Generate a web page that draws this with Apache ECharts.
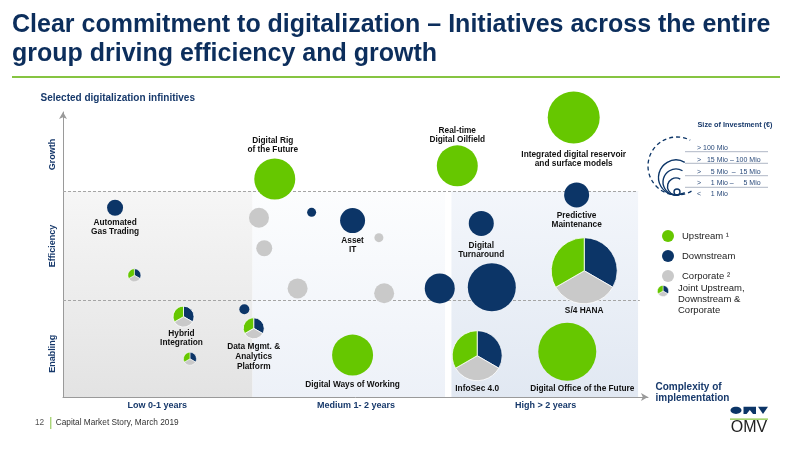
<!DOCTYPE html>
<html>
<head>
<meta charset="utf-8">
<script src="https://cdn.jsdelivr.net/npm/echarts@6/dist/echarts.min.js"></script>
<style>
html,body{margin:0;padding:0;background:#fff;}
#chart{width:800px;height:451px;}
</style>
</head>
<body>
<div id="chart"></div>
<script>
// ---------- DATA ----------
const initiativeNames = [
  'Automated\nGas Trading', '', 'Hybrid\nIntegration', '', '', 'Data Mgmt. &\nAnalytics\nPlatform',
  'Digital Rig\nof the Future', '', '', '', '', 'Asset\nIT', '', '', '', '',
  'Digital\nTurnaround', 'Real-time\nDigital Oilfield', 'Integrated digital reservoir\nand surface models',
  'Predictive\nMaintenance', 'S/4 HANA', 'Digital Ways of Working', 'InfoSec 4.0', 'Digital Office of the Future'
];
const initiativeSegment = [
  'Downstream', 'Joint', 'Joint', 'Joint', 'Downstream', 'Joint',
  'Upstream', 'Corporate', 'Corporate', 'Downstream', 'Corporate', 'Downstream', 'Corporate', 'Corporate', 'Downstream', 'Downstream',
  'Downstream', 'Upstream', 'Upstream',
  'Downstream', 'Joint', 'Upstream', 'Joint', 'Upstream'
];
// complexity of implementation (x, 0-100) and strategic impact (y, 0-100)
const complexity = [8.9, 12.2, 20.6, 21.7, 31.0, 32.6, 36.2, 33.5, 34.4, 42.5, 40.1, 49.5, 54.0, 54.9, 64.4, 73.3, 71.5, 67.4, 87.3, 87.8, 89.1, 49.5, 70.8, 86.2];
const impact     = [66.4, 42.7, 28.2, 13.4, 30.8, 24.1, 76.5, 62.9, 52.2, 64.8, 38.1, 61.9, 55.9, 36.4, 38.1, 38.5, 60.9, 81.1, 98.1, 70.9, 44.3, 14.7, 14.5, 15.9];
// size of investment (bubble size)
const investment = [16, 13, 21, 13, 10, 21, 41, 20, 16, 9, 20, 25, 9, 20, 30, 48, 25, 41, 52, 25, 66, 41, 50, 58];

const complexityLabels = ['Low 0-1 years', 'Medium 1- 2 years', 'High > 2 years'];
const complexityLabelAt = [16.1, 50.1, 82.5];
const impactLabels = ['Enabling', 'Efficiency', 'Growth'];
const impactLabelAt = [15.2, 53, 85.1];
const sizeClasses = ['> 100 Mio', '>   15 Mio \u2013 100 Mio', '>     5 Mio  \u2013  15 Mio', '>     1 Mio \u2013     5 Mio', '<     1 Mio'];
const segmentNames = ['Upstream', 'Downstream', 'Corporate'];

// ---------- STYLE / LAYOUT ----------
const FONT = '"Liberation Sans", Arial, sans-serif';
const NAVY = '#0c3567';
const TXTNAVY = '#17396b';
const colors = { Upstream: '#66c700', Downstream: '#0c3567', Corporate: '#c9c9c9' };
const zoneX = { lowEnd: 32.4, midEnd: 65.3, highStart: 66.4, highEnd: 98.3 };
const zoneY = { enabling: 33.8, efficiency: 72.3 };
const labelAbove = { 'Digital Rig\nof the Future': 4.7, 'Real-time\nDigital Oilfield': 1 };
const labelDist = {
  'Automated\nGas Trading': 2.8, 'Hybrid\nIntegration': 2.5, 'Data Mgmt. &\nAnalytics\nPlatform': 3.2,
  'Asset\nIT': 3, 'Integrated digital reservoir\nand surface models': 7, 'Predictive\nMaintenance': 3.7,
  'Digital\nTurnaround': 5, 'S/4 HANA': 2.8, 'Digital Ways of Working': 5, 'InfoSec 4.0': 3.8,
  'Digital Office of the Future': 4
};
const labelShift = { 'Digital Office of the Future': [15, 0], 'Digital Rig\nof the Future': [-2, 0], 'Hybrid\nIntegration': [-2, 0] };

function labelFor(name) {
  if (!name) return { show: false };
  const above = labelAbove[name] !== undefined;
  return {
    show: true,
    formatter: name,
    position: above ? 'top' : 'bottom',
    distance: above ? labelAbove[name] : (labelDist[name] !== undefined ? labelDist[name] : 4),
    offset: labelShift[name] || [0, 0],
    color: '#111',
    fontFamily: FONT,
    fontWeight: 'bold',
    fontSize: 8.3,
    lineHeight: name.indexOf('Analytics') >= 0 ? 10 : 9,
    align: 'center'
  };
}

const solidSeries = segmentNames.map(seg => ({
  name: seg,
  type: 'scatter',
  clip: false,
  z: 5,
  itemStyle: { color: colors[seg], opacity: 1 },
  symbol: 'circle',
  symbolSize: v => v[2],
  data: initiativeNames.map((n, i) => ({ n, i }))
    .filter(o => initiativeSegment[o.i] === seg)
    .map(o => ({
      value: [complexity[o.i], impact[o.i], investment[o.i]],
      label: labelFor(o.n)
    }))
}));

const jointIdx = initiativeNames.map((n, i) => i).filter(i => initiativeSegment[i] === 'Joint');
const sliceColors = [colors.Downstream, colors.Corporate, colors.Upstream];

function pieSectors(cx, cy, r) {
  const out = [];
  for (let k = 0; k < 3; k++) {
    const a0 = -Math.PI / 2 + k * 2 * Math.PI / 3;
    out.push({
      type: 'sector',
      shape: { cx, cy, r, r0: 0, startAngle: a0, endAngle: a0 + 2 * Math.PI / 3, clockwise: true },
      style: { fill: sliceColors[k], stroke: '#fff', lineWidth: r > 10 ? 0.8 : 0.5 }
    });
  }
  return out;
}

const jointSeries = {
  name: 'Joint',
  type: 'custom',
  clip: false,
  z: 5,
  renderItem: function (params, api) {
    const p = api.coord([api.value(0), api.value(1)]);
    const r = api.value(2) / 2;
    const name = initiativeNames[jointIdx[params.dataIndex]];
    const children = pieSectors(p[0], p[1], r);
    if (name) {
      const d = labelDist[name] !== undefined ? labelDist[name] : 4;
      const sh = labelShift[name] || [0, 0];
      const lh = name.indexOf('Analytics') >= 0 ? 10 : 9;
      children.push({
        type: 'text',
        style: {
          text: name, x: p[0] + sh[0], y: p[1] + r + d,
          align: 'center', verticalAlign: 'top', lineHeight: lh,
          font: 'bold 8.3px ' + FONT, fill: '#111'
        }
      });
    }
    return { type: 'group', children };
  },
  data: jointIdx.map(i => [complexity[i], impact[i], investment[i]])
};

const grad = (top, bottom) => ({ type: 'linear', x: 0, y: 0, x2: 0, y2: 1, colorStops: [{ offset: 0, color: top }, { offset: 1, color: bottom }] });

const zoneSeries = {
  name: 'zones',
  type: 'scatter',
  data: [],
  z: 1,
  silent: true,
  markArea: {
    silent: true,
    data: [
      [{ xAxis: 0, yAxis: 0, itemStyle: { color: grad('#f6f6f6', '#e3e3e3') } }, { xAxis: zoneX.lowEnd, yAxis: zoneY.efficiency }],
      [{ xAxis: zoneX.lowEnd, yAxis: 0, itemStyle: { color: grad('#fcfdfe', '#edf1f8') } }, { xAxis: zoneX.midEnd, yAxis: zoneY.efficiency }],
      [{ xAxis: zoneX.highStart, yAxis: 0, itemStyle: { color: grad('#f3f6fb', '#e1e8f2') } }, { xAxis: zoneX.highEnd, yAxis: zoneY.efficiency }]
    ]
  },
  markLine: {
    silent: true,
    symbol: ['none', 'none'],
    label: { show: false },
    lineStyle: { color: '#a5a5a5', type: [3, 2], width: 1 },
    data: [
      [{ coord: [0, zoneY.efficiency] }, { coord: [zoneX.highEnd, zoneY.efficiency] }],
      [{ coord: [0, zoneY.enabling] }, { coord: [zoneX.highEnd + 0.3, zoneY.enabling] }]
    ]
  }
};

// ---------- GRAPHICS (headers, legend decoration, footer) ----------
const arcRadii = [3, 8.5, 13, 17.5];
const arcCx = 676, arcBase = 195;
const sizeArcs = arcRadii.map((r, k) => ({
  type: k === 0 ? 'circle' : 'arc',
  shape: k === 0 ? { cx: arcCx + 1, cy: arcBase - r, r } :
    { cx: arcCx, cy: arcBase - r, r, startAngle: Math.PI / 3, endAngle: 5 * Math.PI / 3, clockwise: true },
  style: { stroke: NAVY, fill: 'none', lineWidth: 1.4 }
}));
sizeArcs.push({
  type: 'arc',
  shape: { cx: 677, cy: 166, r: 29, startAngle: Math.PI / 3, endAngle: 5 * Math.PI / 3 - 0.05, clockwise: true },
  style: { stroke: NAVY, fill: 'none', lineWidth: 1.3, lineDash: [4, 3] }
});
const sizeLinesY = [151.7, 163.3, 175.7, 187.3];
const sizeTextY = [148.3, 160, 171.7, 182.6, 194];
const sizeGraphics = sizeLinesY.map(y => ({
  type: 'line', shape: { x1: 685, y1: y, x2: 768, y2: y }, style: { stroke: '#9aa3b5', lineWidth: 0.8 }
})).concat(sizeClasses.map((t, k) => ({
  type: 'text', style: { text: t, x: 697, y: sizeTextY[k], verticalAlign: 'middle', font: '7px ' + FONT, fill: '#2a4a7a' }
}))).concat(sizeArcs);

const graphics = [
  { type: 'text', style: { text: 'Clear commitment to digitalization \u2013 Initiatives across the entire\ngroup driving efficiency and growth',
      x: 12, y: 11, lineHeight: 29, font: 'bold 25px ' + FONT, fill: '#0c2e5c' } },
  { type: 'rect', shape: { x: 12, y: 76, width: 768, height: 2 }, style: { fill: '#86c441' } },
  { type: 'text', style: { text: 'Selected digitalization infinitives', x: 40.5, y: 98.3, verticalAlign: 'middle',
      font: 'bold 10px ' + FONT, fill: TXTNAVY } },
  { type: 'text', style: { text: 'Size of Investment (\u20ac)', x: 735, y: 125, align: 'center', verticalAlign: 'middle',
      font: 'bold 7.3px ' + FONT, fill: TXTNAVY } },
  // joint legend item
  { type: 'group', children: pieSectors(663, 291, 5.6) },
  { type: 'text', style: { text: 'Joint Upstream,\nDownstream &\nCorporate', x: 678, y: 282.8, lineHeight: 11,
      font: '9.5px ' + FONT, fill: '#222' } },
  { type: 'text', style: { text: 'Complexity of\nimplementation', x: 655.5, y: 381.8, lineHeight: 11,
      font: 'bold 10px ' + FONT, fill: TXTNAVY } },
  // footer
  { type: 'text', style: { text: '12', x: 35, y: 423, verticalAlign: 'middle', font: '8.3px ' + FONT, fill: '#555' } },
  { type: 'rect', shape: { x: 50.3, y: 417, width: 1, height: 12 }, style: { fill: '#86c441' } },
  { type: 'text', style: { text: 'Capital Market Story, March 2019', x: 55.7, y: 423, verticalAlign: 'middle', font: '8.3px ' + FONT, fill: '#333' } },
  // OMV logo
  { type: 'ellipse', shape: { cx: 736, cy: 410.3, rx: 5.5, ry: 3.6 }, style: { fill: NAVY } },
  { type: 'polygon', shape: { points: [[743.5, 406.8], [756, 406.8], [756, 414], [753, 414], [749.8, 410], [746.6, 414], [743.5, 414]] }, style: { fill: NAVY } },
  { type: 'polygon', shape: { points: [[758, 406.8], [768, 406.8], [763, 414]] }, style: { fill: NAVY } },
  { type: 'rect', shape: { x: 730, y: 418.5, width: 38, height: 1.3 }, style: { fill: '#86c441' } },
  { type: 'text', style: { text: 'OMV', x: 749, y: 427.5, align: 'center', verticalAlign: 'middle', font: '16px ' + FONT, fill: '#222' } }
].concat(sizeGraphics);

// ---------- CHART ----------
const chart = echarts.init(document.getElementById('chart'), null, { renderer: 'canvas' });
chart.setOption({
  animation: false,
  backgroundColor: '#fff',
  textStyle: { fontFamily: FONT },
  grid: { left: 63, right: 152, top: 112, bottom: 54, containLabel: false },
  xAxis: {
    type: 'value', min: 0, max: 100, z: 4,
    splitLine: { show: false },
    axisTick: { show: false },
    axisLine: { show: true, symbol: ['none', 'arrow'], symbolSize: [6, 7], lineStyle: { color: '#9a9a9a', width: 1 } },
    axisLabel: {
      customValues: complexityLabelAt,
      formatter: v => complexityLabels[complexityLabelAt.indexOf(v)] || '',
      margin: 4, fontSize: 9, fontWeight: 'bold', color: TXTNAVY, fontFamily: FONT
    }
  },
  yAxis: {
    type: 'value', min: 0, max: 100, z: 4,
    splitLine: { show: false },
    axisTick: { show: false },
    axisLine: { show: true, symbol: ['none', 'arrow'], symbolSize: [6, 7], lineStyle: { color: '#9a9a9a', width: 1 } },
    axisLabel: {
      customValues: impactLabelAt,
      formatter: v => impactLabels[impactLabelAt.indexOf(v)] || '',
      rotate: 90, margin: 6, fontSize: 9, fontWeight: 'bold', color: TXTNAVY, fontFamily: FONT
    }
  },
  legend: {
    data: segmentNames,
    orient: 'vertical',
    left: 657, top: 225,
    icon: 'circle',
    itemWidth: 12, itemHeight: 12, itemGap: 8,
    formatter: n => n === 'Upstream' ? 'Upstream \u00b9' : (n === 'Corporate' ? 'Corporate \u00b2' : n),
    textStyle: { fontSize: 9.5, color: '#222', fontFamily: FONT, padding: [0, 0, 0, 3] },
    selectedMode: false
  },
  series: [zoneSeries].concat(solidSeries, [jointSeries]),
  graphic: graphics
});
</script>
</body>
</html>
